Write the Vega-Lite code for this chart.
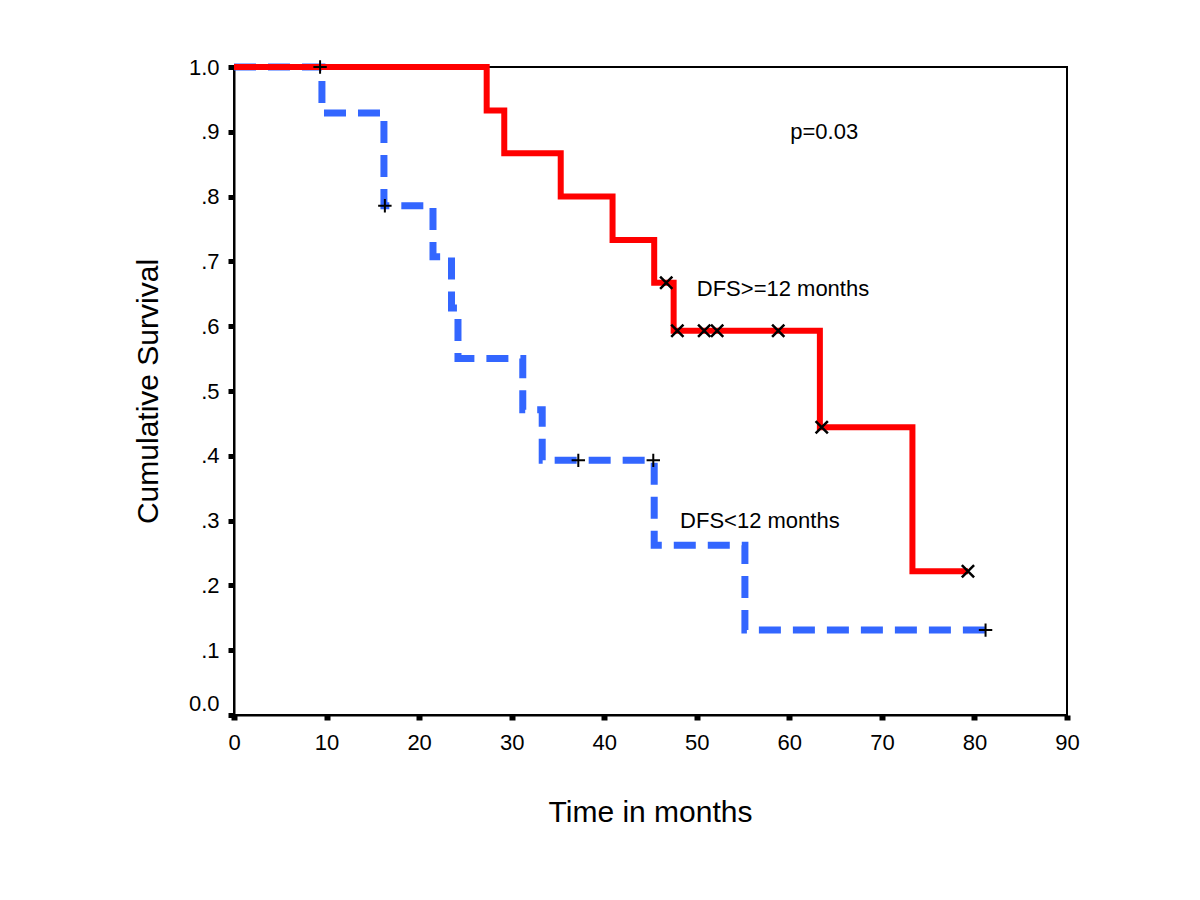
{
  "$schema": "https://vega.github.io/schema/vega-lite/v6.json",
  "width": 833,
  "height": 648,
  "autosize": {"type": "none"},
  "padding": {"left": 234, "top": 67, "right": 133, "bottom": 185},
  "background": "white",
  "config": {
    "font": "Liberation Sans",
    "view": {"stroke": "black", "strokeWidth": 2},
    "axis": {"grid": false, "domainColor": "black", "domainWidth": 2, "tickColor": "black", "labelColor": "black", "titleColor": "black", "labelFont": "Liberation Sans", "titleFont": "Liberation Sans", "labelFontSize": 22, "titleFontSize": 30, "titleFontWeight": "normal", "labelFlush": false, "labelOverlap": false}
  },
  "datasets": {
    "curves": [
      {"group": "DFS>=12 months", "t": 0, "s": 1.0},
      {"group": "DFS>=12 months", "t": 27.3, "s": 0.933},
      {"group": "DFS>=12 months", "t": 29.2, "s": 0.867},
      {"group": "DFS>=12 months", "t": 35.3, "s": 0.8},
      {"group": "DFS>=12 months", "t": 40.9, "s": 0.733},
      {"group": "DFS>=12 months", "t": 45.4, "s": 0.667},
      {"group": "DFS>=12 months", "t": 47.5, "s": 0.593},
      {"group": "DFS>=12 months", "t": 63.3, "s": 0.444},
      {"group": "DFS>=12 months", "t": 73.3, "s": 0.222},
      {"group": "DFS>=12 months", "t": 79.3, "s": 0.222},
      {"group": "DFS<12 months", "t": 0, "s": 1.0},
      {"group": "DFS<12 months", "t": 9.5, "s": 0.929},
      {"group": "DFS<12 months", "t": 16.2, "s": 0.786},
      {"group": "DFS<12 months", "t": 21.5, "s": 0.707},
      {"group": "DFS<12 months", "t": 23.5, "s": 0.628},
      {"group": "DFS<12 months", "t": 24.2, "s": 0.55},
      {"group": "DFS<12 months", "t": 31.2, "s": 0.471},
      {"group": "DFS<12 months", "t": 33.3, "s": 0.393},
      {"group": "DFS<12 months", "t": 45.4, "s": 0.262},
      {"group": "DFS<12 months", "t": 55.2, "s": 0.131},
      {"group": "DFS<12 months", "t": 81.2, "s": 0.131}
    ],
    "censored": [
      {"group": "DFS>=12 months", "t": 46.7, "s": 0.667},
      {"group": "DFS>=12 months", "t": 47.9, "s": 0.593},
      {"group": "DFS>=12 months", "t": 50.8, "s": 0.593},
      {"group": "DFS>=12 months", "t": 52.2, "s": 0.593},
      {"group": "DFS>=12 months", "t": 58.8, "s": 0.593},
      {"group": "DFS>=12 months", "t": 63.5, "s": 0.444},
      {"group": "DFS>=12 months", "t": 79.3, "s": 0.222},
      {"group": "DFS<12 months", "t": 9.3, "s": 1.0},
      {"group": "DFS<12 months", "t": 16.3, "s": 0.786},
      {"group": "DFS<12 months", "t": 37.2, "s": 0.393},
      {"group": "DFS<12 months", "t": 45.3, "s": 0.393},
      {"group": "DFS<12 months", "t": 81.2, "s": 0.131}
    ],
    "notes": [
      {"label": "p=0.03", "t": 60.1, "s": 0.9},
      {"label": "DFS>=12 months", "t": 50.0, "s": 0.658},
      {"label": "DFS<12 months", "t": 48.2, "s": 0.3}
    ]
  },
  "encoding": {
    "x": {"field": "t", "type": "quantitative", "scale": {"domain": [0, 90], "nice": false},
      "axis": {"title": "Time in months", "values": [0,10,20,30,40,50,60,70,80,90], "tickSize": 5, "tickWidth": 6, "labelPadding": 12, "titleX": 416, "titleY": 97, "titleBaseline": "middle", "titleAlign": "center"}},
    "y": {"field": "s", "type": "quantitative", "scale": {"domain": [0, 1], "nice": false},
      "axis": {"title": "Cumulative Survival", "values": [0,0.1,0.2,0.3,0.4,0.5,0.6,0.7,0.8,0.9,1.0], "tickSize": 6, "tickWidth": 5, "labelPadding": 9,
        "labelExpr": "datum.value == 0 ? '0.0' : (datum.value == 1 ? '1.0' : replace(format(datum.value, '.1f'), '0.', '.'))",
        "labelBaseline": {"expr": "datum.value == 0 ? 'bottom' : 'middle'"},
        "titleX": -86, "titleY": 324, "titleAngle": -90, "titleBaseline": "middle", "titleAlign": "center"}}
  },
  "layer": [
    {
      "data": {"name": "curves"},
      "transform": [{"filter": "datum.group == 'DFS<12 months'"}],
      "mark": {"type": "line", "interpolate": "step-after", "color": "#3366ff", "strokeWidth": 7, "strokeDash": [22, 12], "strokeCap": "butt"}
    },
    {
      "data": {"name": "curves"},
      "transform": [{"filter": "datum.group == 'DFS>=12 months'"}],
      "mark": {"type": "line", "interpolate": "step-after", "color": "#ff0000", "strokeWidth": 6}
    },
    {
      "data": {"name": "censored"},
      "transform": [{"filter": "datum.group == 'DFS<12 months'"}],
      "mark": {"type": "point", "shape": "M-1,0L1,0M0,-1L0,1", "filled": false, "stroke": "black", "strokeWidth": 2, "size": 180, "opacity": 1}
    },
    {
      "data": {"name": "censored"},
      "transform": [{"filter": "datum.group == 'DFS>=12 months'"}],
      "mark": {"type": "point", "shape": "M-1,-1L1,1M-1,1L1,-1", "filled": false, "stroke": "black", "strokeWidth": 2.5, "size": 150, "opacity": 1}
    },
    {
      "data": {"name": "notes"},
      "mark": {"type": "text", "align": "left", "baseline": "middle", "fontSize": 22, "font": "Liberation Sans", "color": "black"},
      "encoding": {"text": {"field": "label"}}
    }
  ]
}
